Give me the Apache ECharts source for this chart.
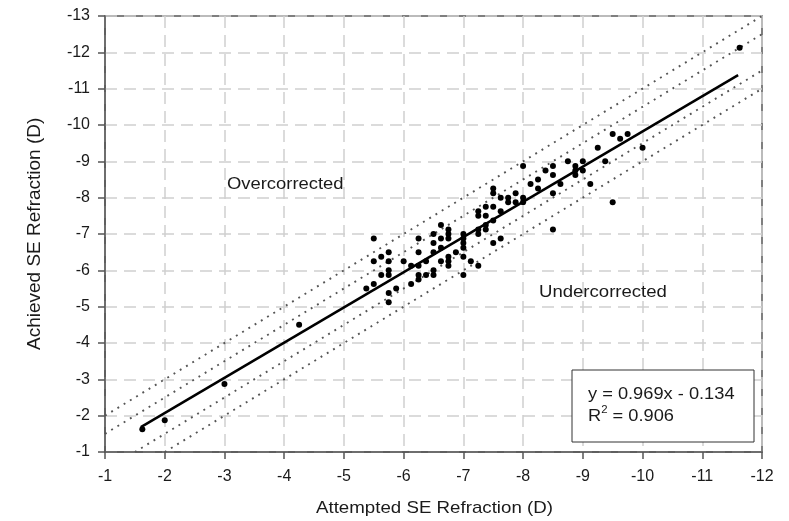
<!DOCTYPE html>
<html>
<head>
<meta charset="utf-8">
<script src="https://cdn.jsdelivr.net/npm/echarts@6/dist/echarts.min.js"></script>
<style>html,body{margin:0;padding:0;background:#fff}#c{width:789px;height:521px}</style>
</head>
<body>
<div id="c"></div>
<script>
// Attempted (x) vs achieved (y) SE refraction, dioptres
const attempted = [-1.625,-2,-3,-4.25,-5.5,-5.375,-5.5,-5.5,-5.625,-5.625,-5.75,-5.75,-5.75,-5.75,-5.75,-5.75,-5.875,-6,-6.125,-6.125,-6.25,-6.25,-6.25,-6.25,-6.25,-6.375,-6.375,-6.5,-6.5,-6.5,-6.5,-6.5,-6.625,-6.625,-6.625,-6.625,-6.75,-6.75,-6.75,-6.75,-6.75,-6.75,-6.875,-7,-7,-7,-7,-7,-7,-7.125,-7.25,-7.25,-7.25,-7.375,-7.375,-7.375,-7.375,-7.25,-7.25,-7.5,-7.5,-7.5,-7.5,-7.5,-7.625,-7.625,-7.625,-7.75,-7.75,-7.875,-7.875,-8,-8,-8,-8.125,-8.25,-8.25,-8.375,-8.5,-8.5,-8.5,-8.5,-8.625,-8.75,-8.875,-8.875,-8.875,-9,-9,-9.125,-9.25,-9.375,-9.5,-9.625,-9.75,-9.5,-10,-11.625];
const achieved  = [-1.625,-1.875,-2.875,-4.5,-6.875,-5.5,-5.625,-6.25,-6.375,-5.875,-6.5,-6.25,-6.0,-5.875,-5.375,-5.125,-5.5,-6.25,-6.125,-5.625,-6.875,-6.5,-6.125,-5.875,-5.75,-6.25,-5.875,-7.0,-6.75,-6.5,-6.0,-5.875,-7.25,-6.875,-6.625,-6.25,-7.125,-7.0,-6.875,-6.375,-6.25,-6.125,-6.5,-7.0,-6.875,-6.75,-6.625,-6.375,-5.875,-6.25,-6.125,-7.0,-7.125,-7.125,-7.25,-7.5,-7.75,-7.5,-7.625,-7.375,-7.75,-8.125,-8.25,-6.75,-6.875,-7.625,-8.0,-7.875,-8.0,-7.875,-8.125,-8.0,-7.875,-8.875,-8.375,-8.5,-8.25,-8.75,-8.875,-8.625,-8.125,-7.125,-8.375,-9.0,-8.875,-8.75,-8.625,-9.0,-8.75,-8.375,-9.375,-9.0,-9.75,-9.625,-9.75,-7.875,-9.375,-12.125];
// Regression line end points (y = 0.969x - 0.134)
const fitX = [-1.6, -11.6];
const fitY = [-1.684, -11.374];
// Reference dotted lines: y = x + offset
const bandOffsets = [-1, -0.5, 0.5, 1];
const xTicks = [-1,-2,-3,-4,-5,-6,-7,-8,-9,-10,-11,-12];
const yTicks = [-1,-2,-3,-4,-5,-6,-7,-8,-9,-10,-11,-12,-13];
const xTitle = 'Attempted SE Refraction (D)';
const yTitle = 'Achieved SE Refraction (D)';
const labelOver = 'Overcorrected';
const labelUnder = 'Undercorrected';
const eqText = 'y = 0.969x - 0.134';
const r2Text = '0.906';

const FONT = '"Liberation Sans", Arial, sans-serif';
const chart = echarts.init(document.getElementById('c'), null, {renderer: 'canvas'});

const xMin = Math.min(...xTicks), xMax = Math.max(...xTicks);
const yMin = Math.min(...yTicks), yMax = Math.max(...yTicks);

function bandLine(off) {
  let xa = xMax, ya = xa + off;
  if (ya > yMax) { ya = yMax; xa = ya - off; }
  let xb = xMin, yb = xb + off;
  if (yb < yMin) { yb = yMin; xb = yb - off; }
  return [[xa, ya], [xb, yb]];
}

const series = [];
bandOffsets.forEach(off => {
  series.push({
    type: 'line', data: bandLine(off), symbol: 'none', silent: true,
    lineStyle: {color: '#555', width: 1.9, type: [1.9, 5.4]}, z: 2
  });
});
series.push({
  type: 'line', data: fitX.map((x, i) => [x, fitY[i]]), symbol: 'none', silent: true,
  lineStyle: {color: '#000', width: 2.5}, z: 3
});
series.push({
  type: 'scatter', data: attempted.map((x, i) => [x, achieved[i]]),
  symbol: 'circle', symbolSize: 6, itemStyle: {color: '#000', opacity: 1}, z: 4
});

const txt = (s, size) => ({text: s, font: size + 'px ' + FONT, fill: '#1a1a1a', align: 'left', verticalAlign: 'middle'});

chart.setOption({
  animation: false,
  backgroundColor: '#fff',
  grid: {left: 105, right: 27, top: 16, bottom: 69, show: true, borderColor: '#555', borderWidth: 1.5, backgroundColor: 'transparent'},
  xAxis: {
    type: 'value', min: xMin, max: xMax, interval: 1, inverse: true,
    axisLine: {show: true, lineStyle: {color: '#555', width: 1.5}},
    axisTick: {show: true, length: 7, lineStyle: {color: '#555', width: 1.5}},
    axisLabel: {fontFamily: FONT, fontSize: 16, color: '#1a1a1a', margin: 17},
    splitLine: {show: true, lineStyle: {color: '#cfcfcf', width: 1.5, type: [12, 7]}}
  },
  yAxis: {
    type: 'value', min: yMin, max: yMax, interval: 1, inverse: true,
    axisLine: {show: true, lineStyle: {color: '#555', width: 1.5}},
    axisTick: {show: true, length: 7, lineStyle: {color: '#555', width: 1.5}},
    axisLabel: {fontFamily: FONT, fontSize: 16, color: '#1a1a1a', margin: 15},
    splitLine: {show: true, lineStyle: {color: '#cfcfcf', width: 1.5, type: [12, 7]}}
  },
  graphic: [
    {type: 'text', x: 316, y: 508, scaleX: 1.1, z: 10, style: txt(xTitle, 17)},
    {type: 'text', x: 35, y: 350, rotation: Math.PI / 2, z: 10, style: txt(yTitle, 19)},
    {type: 'text', x: 227, y: 185, scaleX: 1.15, z: 10, style: txt(labelOver, 16)},
    {type: 'text', x: 539, y: 293, scaleX: 1.16, z: 10, style: txt(labelUnder, 16)},
    {type: 'rect', x: 572, y: 370, z: 10, shape: {x: 0, y: 0, width: 182, height: 72}, style: {fill: '#fff', stroke: '#333', lineWidth: 1}},
    {type: 'text', x: 588, y: 395, scaleX: 1.14, z: 11, style: txt(eqText, 16)},
    {type: 'text', x: 588, y: 415, scaleX: 1.14, z: 11, style: {
      text: '{a|R}{s|2}{a| = ' + r2Text + '}', align: 'left', verticalAlign: 'middle',
      rich: {a: {fontFamily: FONT, fontSize: 16, fill: '#1a1a1a', verticalAlign: 'bottom', lineHeight: 20},
             s: {fontFamily: FONT, fontSize: 10, fill: '#1a1a1a', verticalAlign: 'top', lineHeight: 20, padding: [0,0,9,0]}}
    }}
  ],
  series: series
});
</script>
</body>
</html>
